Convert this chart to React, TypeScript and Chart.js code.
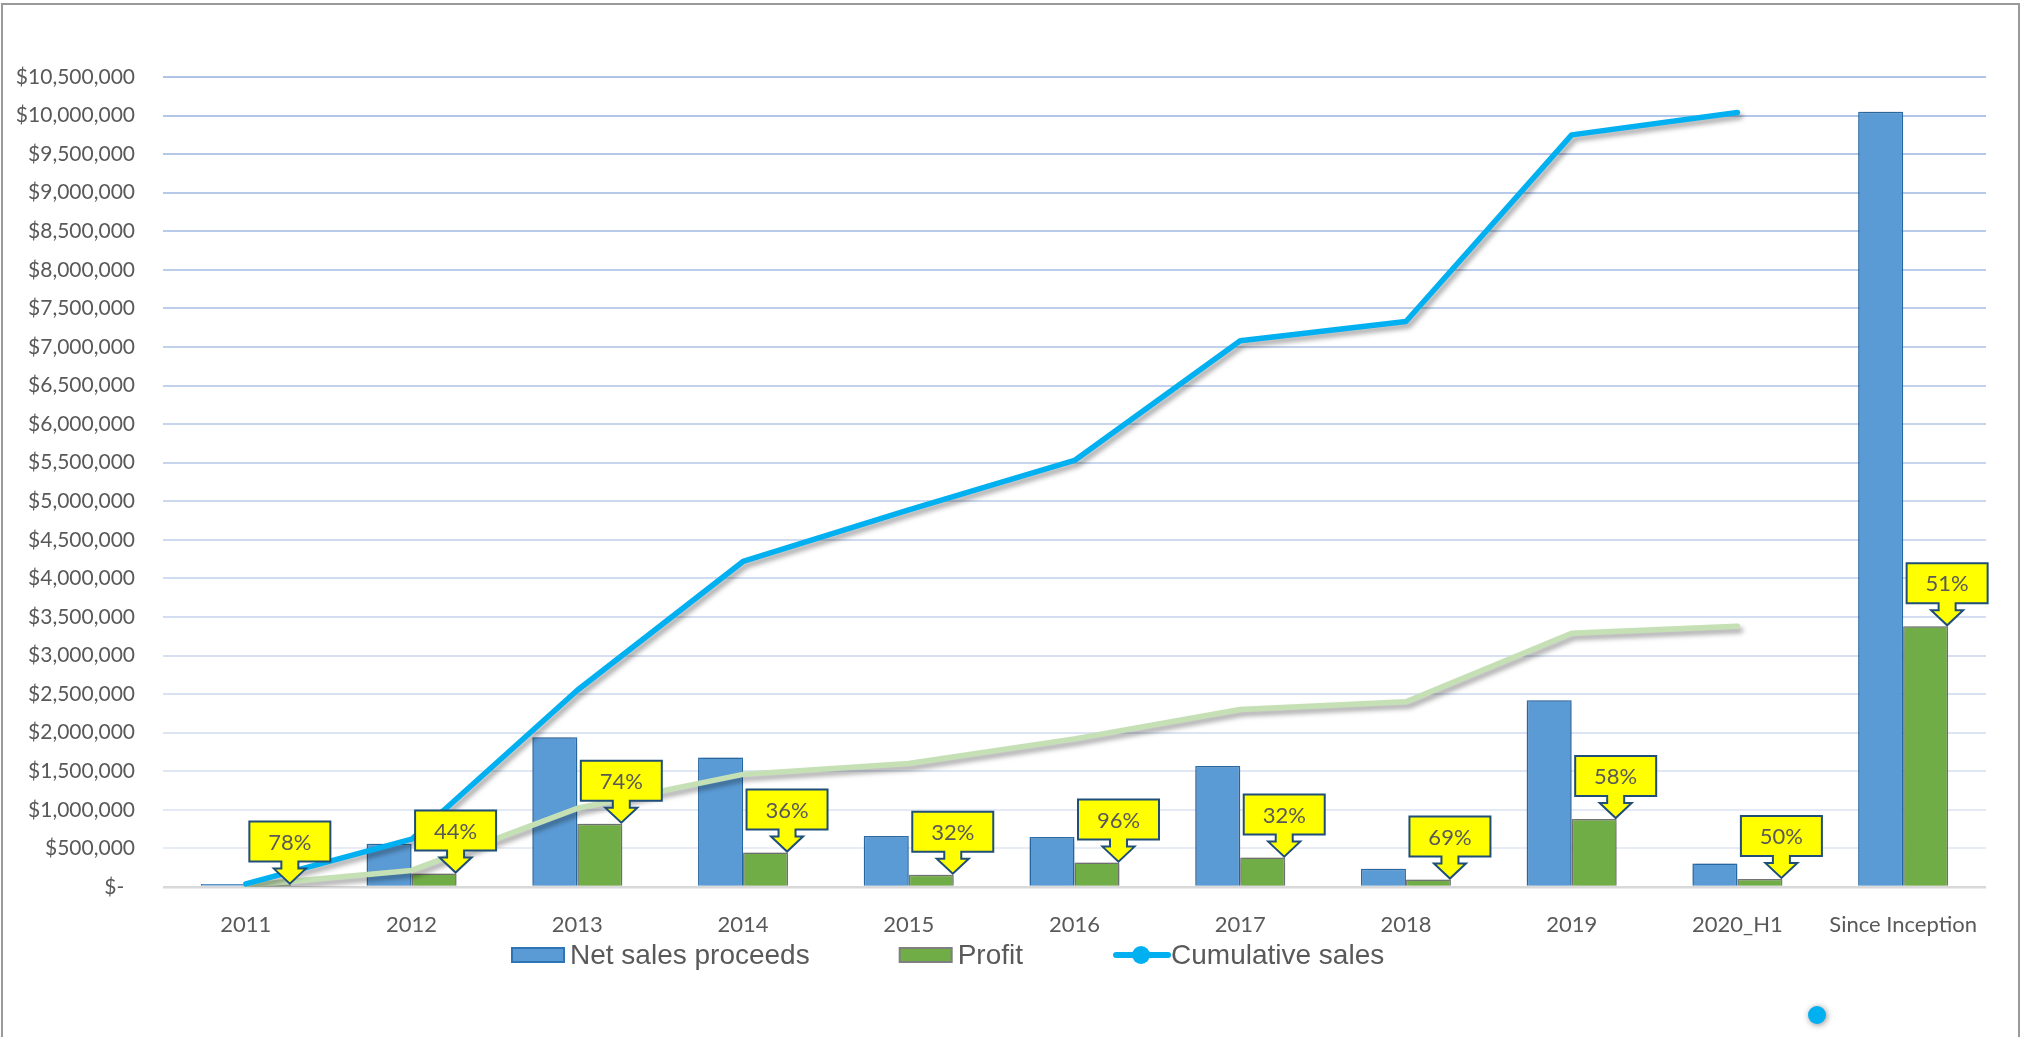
import React, { useEffect, useRef } from 'react';
import { Chart, registerables } from 'chart.js';

Chart.register(...registerables);

const categories = ['2011', '2012', '2013', '2014', '2015', '2016', '2017', '2018', '2019', '2020_H1', 'Since Inception'];
const netSales = [40000, 560000, 1940000, 1680000, 660000, 648000, 1567000, 235000, 2420000, 305000, 10050000];
const profit = [31000, 174000, 821000, 446000, 160000, 316000, 381000, 96000, 881000, 104000, 3380000];
const cumulativeSales = [40000, 620000, 2550000, 4220000, 4890000, 5530000, 7080000, 7330000, 9750000, 10040000, null];
const cumulativeProfit = [20000, 215000, 1020000, 1460000, 1600000, 1920000, 2300000, 2400000, 3290000, 3380000, null];
const profitPctLabels = ['78%', '44%', '74%', '36%', '32%', '96%', '32%', '69%', '58%', '50%', '51%'];
const legendLabels = ['Net sales proceeds', 'Profit', 'Cumulative sales'];
const yMax = 10500000;
const yStep = 500000;

const GRAY_TEXT = '#595959';
const AXIS_FONT = 'Lato';

const framePlugin = {
  id: 'frame',
  beforeDraw(chart: any) {
    const ctx = chart.ctx;
    ctx.save();
    ctx.fillStyle = '#ffffff';
    ctx.fillRect(0, 0, chart.width, chart.height);
    ctx.restore();
  },
  afterDraw(chart: any) {
    const ctx = chart.ctx;
    ctx.save();
    ctx.strokeStyle = '#9a9a9a';
    ctx.lineWidth = 2;
    ctx.beginPath();
    ctx.moveTo(2, chart.height);
    ctx.lineTo(2, 4);
    ctx.lineTo(2019, 4);
    ctx.lineTo(2019, chart.height);
    ctx.stroke();
    // stray blue marker dot at bottom right
    ctx.shadowColor = 'rgba(0,0,0,0.45)';
    ctx.shadowBlur = 6;
    ctx.shadowOffsetX = 1;
    ctx.shadowOffsetY = 1;
    ctx.fillStyle = '#00B0F0';
    ctx.beginPath();
    ctx.arc(1817, 1015, 9, 0, Math.PI * 2);
    ctx.fill();
    ctx.restore();
  },
};

const shadowPlugin = {
  id: 'shadows',
  beforeDatasetDraw(chart: any, args: any) {
    const ctx = chart.ctx;
    ctx.save();
    if (args.meta.type === 'line') {
      ctx.shadowColor = 'rgba(0,0,0,0.35)';
      ctx.shadowBlur = 5;
      ctx.shadowOffsetX = 3;
      ctx.shadowOffsetY = 4;
    } else {
      ctx.shadowColor = 'rgba(0,0,0,0.30)';
      ctx.shadowBlur = 8;
      ctx.shadowOffsetX = 0;
      ctx.shadowOffsetY = 0;
    }
  },
  afterDatasetDraw(chart: any) {
    chart.ctx.restore();
  },
};

const calloutPlugin = {
  id: 'callouts',
  afterDatasetsDraw(chart: any) {
    const ctx = chart.ctx;
    const meta = chart.getDatasetMeta(1);
    const bw = 81, bh = 40, stemW = 17, headW = 32, stemH = 7, headH = 15;
    ctx.save();
    meta.data.forEach((el: any, i: number) => {
      const p = el.getProps(['x', 'y', 'width'], true);
      const tipX = p.x + p.width / 2 - 1;
      const tipY = p.y - 1;
      const boxBottom = tipY - headH - stemH;
      const boxTop = boxBottom - bh;
      ctx.beginPath();
      ctx.moveTo(tipX - bw / 2, boxTop);
      ctx.lineTo(tipX + bw / 2, boxTop);
      ctx.lineTo(tipX + bw / 2, boxBottom);
      ctx.lineTo(tipX + stemW / 2, boxBottom);
      ctx.lineTo(tipX + stemW / 2, boxBottom + stemH);
      ctx.lineTo(tipX + headW / 2, boxBottom + stemH);
      ctx.lineTo(tipX, tipY);
      ctx.lineTo(tipX - headW / 2, boxBottom + stemH);
      ctx.lineTo(tipX - stemW / 2, boxBottom + stemH);
      ctx.lineTo(tipX - stemW / 2, boxBottom);
      ctx.lineTo(tipX - bw / 2, boxBottom);
      ctx.closePath();
      ctx.fillStyle = '#FFFF00';
      ctx.fill();
      ctx.strokeStyle = '#1F4E79';
      ctx.lineWidth = 2;
      ctx.lineJoin = 'miter';
      ctx.stroke();
      ctx.fillStyle = GRAY_TEXT;
      ctx.font = `22px ${AXIS_FONT}`;
      ctx.textAlign = 'center';
      ctx.textBaseline = 'middle';
      ctx.fillText(profitPctLabels[i], tipX, boxTop + bh / 2 + 1);
    });
    ctx.restore();
  },
};

const legendPlugin = {
  id: 'customLegend',
  afterDraw(chart: any) {
    const ctx = chart.ctx;
    const baseY = 964;
    const midY = 955;
    ctx.save();
    ctx.font = '28px "Liberation Sans"';
    ctx.textBaseline = 'alphabetic';
    ctx.textAlign = 'left';
    const swW = 52;
    const gap = 6;
    const itemGap = 90;
    let x = 512;
    legendLabels.forEach((label, i) => {
      if (i === 0 || i === 1) {
        ctx.fillStyle = i === 0 ? '#5B9BD5' : '#70AD47';
        ctx.strokeStyle = i === 0 ? '#2E75B6' : '#7F7F7F';
        ctx.lineWidth = 2;
        ctx.fillRect(x, 948, swW, 14);
        ctx.strokeRect(x, 948, swW, 14);
      } else {
        ctx.strokeStyle = '#00B0F0';
        ctx.lineWidth = 6;
        ctx.lineCap = 'round';
        ctx.beginPath();
        ctx.moveTo(x + 3, midY);
        ctx.lineTo(x + swW + 3, midY);
        ctx.stroke();
        ctx.fillStyle = '#00B0F0';
        ctx.beginPath();
        ctx.arc(x + swW / 2 + 2, midY, 9, 0, Math.PI * 2);
        ctx.fill();
      }
      ctx.fillStyle = GRAY_TEXT;
      const tx = x + swW + gap;
      ctx.fillText(label, tx, baseY);
      x = tx + ctx.measureText(label).width + itemGap;
    });
    ctx.restore();
  },
};

function gridColor(v: number): string {
  if (v === 0) return '#D9D9D9';
  const t = Math.max(0, Math.min(1, v / yMax));
  const a = [236, 240, 248];
  const b = [176, 196, 230];
  const c = a.map((av, k) => Math.round(av + (b[k] - av) * Math.pow(t, 0.8)));
  return `rgb(${c[0]},${c[1]},${c[2]})`;
}

export default function App() {
  const ref = useRef<HTMLCanvasElement>(null);
  useEffect(() => {
    const chart = new Chart(ref.current as HTMLCanvasElement, {
      type: 'bar',
      data: {
        labels: categories,
        datasets: [
          {
            type: 'bar',
            label: legendLabels[0],
            data: netSales,
            backgroundColor: '#5B9BD5',
            borderColor: '#2E75B6',
            borderWidth: 1.5,
            order: 2,
          },
          {
            type: 'bar',
            label: legendLabels[1],
            data: profit,
            backgroundColor: '#70AD47',
            borderColor: '#7F7F7F',
            borderWidth: 1.5,
            order: 2,
          },
          {
            type: 'line',
            label: 'Cumulative profit',
            data: cumulativeProfit as any,
            borderColor: '#C5E0B4',
            borderWidth: 5.5,
            pointRadius: 0,
            tension: 0,
            borderCapStyle: 'round',
            borderJoinStyle: 'round',
            fill: false,
            order: 1,
          },
          {
            type: 'line',
            label: legendLabels[2],
            data: cumulativeSales as any,
            borderColor: '#00B0F0',
            borderWidth: 5.5,
            pointRadius: 0,
            tension: 0,
            borderCapStyle: 'round',
            borderJoinStyle: 'round',
            fill: false,
            order: 0,
          },
        ] as any,
      },
      options: {
        responsive: false,
        animation: false,
        devicePixelRatio: 1,
        layout: { padding: { top: 77, right: 35, left: 0, bottom: 0 } },
        datasets: {
          bar: { categoryPercentage: 0.543, barPercentage: 1 },
        } as any,
        plugins: {
          legend: { display: false },
          tooltip: { enabled: false },
          title: { display: false },
        },
        scales: {
          x: {
            grid: { display: false },
            border: { display: false },
            ticks: {
              color: GRAY_TEXT,
              font: { family: AXIS_FONT, size: 22 },
              padding: 17,
              maxRotation: 0,
              autoSkip: false,
            },
            afterFit(scale: any) {
              scale.height = 150;
            },
          },
          y: {
            min: 0,
            max: yMax,
            border: { display: false },
            grid: {
              drawTicks: false,
              color: (c: any) => gridColor(c.tick ? c.tick.value : 1),
              lineWidth: (c: any) => (c.tick && c.tick.value === 0 ? 2.5 : 2),
            },
            ticks: {
              stepSize: yStep,
              color: GRAY_TEXT,
              font: { family: AXIS_FONT, size: 21 },
              padding: 28,
              callback: (v: any) => (Number(v) === 0 ? '$-  ' : '$' + Number(v).toLocaleString('en-US')),
            },
            afterFit(scale: any) {
              scale.width = 163;
            },
          },
        },
      },
      plugins: [framePlugin, shadowPlugin, calloutPlugin, legendPlugin],
    } as any);
    return () => chart.destroy();
  }, []);
  return (
    <div style={{ position: 'fixed', left: 0, top: 0, width: 2021, height: 1037, background: '#fff' }}>
      <canvas ref={ref} width={2021} height={1037} style={{ display: 'block', width: 2021, height: 1037 }} />
    </div>
  );
}
